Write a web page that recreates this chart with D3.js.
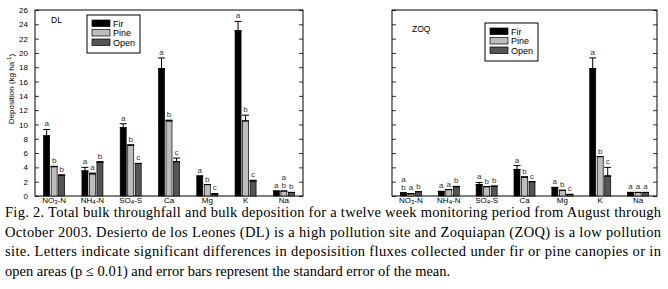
<!DOCTYPE html>
<html><head><meta charset="utf-8">
<script src="https://cdn.jsdelivr.net/npm/d3@7/dist/d3.min.js"></script>
<style>body{margin:0;background:#fff}svg{display:block}</style>
</head><body>
<svg id="c" width="668" height="289"></svg>
<script>
const categories = [["NO","3","-N"],["NH","4","-N"],["SO","4","-S"],["Ca","",""],["Mg","",""],["K","",""],["Na","",""]];
const seriesNames = ["Fir","Pine","Open"];
const yTicks = [0,2,4,6,8,10,12,14,16,18,20,22,24,26];

const dlFir = [8.4,3.5,9.55,17.8,2.8,23.1,0.7];
const dlFirErr = [0.9,0.5,0.55,1.5,0,1.3,0];
const dlPine = [4.1,3.1,7.1,10.5,1.6,10.5,0.7];
const dlPineErr = [0.05,0.1,0.05,0.1,0,0.8,0];
const dlOpen = [2.9,4.7,4.55,4.8,0.25,2.1,0.5];
const dlOpenErr = [0.05,0.1,0,0.5,0.1,0.1,0];
const dlLetters = [["a","b","b"],["a","a","b"],["a","b","c"],["a","b","c"],["a","b","c"],["a","b","c"],["a","a\nb","b"]];

const zoqFir = [0.45,0.65,1.6,3.7,1.2,17.8,0.5];
const zoqFirErr = [0,0,0.3,0.55,0,1.5,0];
const zoqPine = [0.3,0.9,1.3,2.6,0.8,5.5,0.5];
const zoqPineErr = [0.05,0,0,0.1,0,0,0];
const zoqOpen = [0.6,1.3,1.35,2.0,0.2,2.8,0.5];
const zoqOpenErr = [0,0.05,0.05,0,0.05,1.2,0];
const zoqLetters = [["a\nb","a","b"],["a","a","b"],["a","b","b"],["a","b","c"],["a","b","c"],["a","b","c"],["a","a","a"]];

const captionLines = [
 "Fig. 2. Total bulk throughfall and bulk deposition for a twelve week monitoring period from August through",
 "October 2003. Desierto de los Leones (DL) is a high pollution site and Zoquiapan (ZOQ) is a low pollution",
 "site. Letters indicate significant differences in deposisition fluxes collected under fir or pine canopies or in",
 "open areas (p \u2264  0.01) and error bars represent the standard error of the mean."
];

const fills = ["#000000","#bdbdbd","#555555"];
const svg = d3.select("#c");
svg.append("rect").attr("width",668).attr("height",289).attr("fill","#fff");
const font = "Arial, 'Liberation Sans', sans-serif";

function panel(opt){
  const g = svg.append("g");
  const y = d3.scaleLinear().domain([0,26]).range([196,10]);
  const x0 = d3.scaleBand().domain(d3.range(categories.length)).range([opt.left,opt.right]).paddingInner(0).paddingOuter(0);
  const gw = x0.bandwidth();
  const x1 = d3.scaleBand().domain([0,1,2]).range([gw/2-10.5, gw/2+10.5]).paddingInner(0.2);
  const la = g.append("g").attr("transform",`translate(${opt.left},0)`)
    .call(d3.axisLeft(y).tickValues(yTicks).tickSize(-4).tickPadding(opt.labels?7:0).tickFormat(opt.labels?d3.format("d"):""));
  la.select(".domain").remove();
  la.selectAll("text").attr("font-family",font).attr("font-size",8).attr("fill","#000");
  la.selectAll("line").attr("stroke","#000").attr("stroke-width",0.8);
  const ra = g.append("g").attr("transform",`translate(${opt.right},0)`)
    .call(d3.axisRight(y).tickValues(yTicks).tickSize(-4).tickFormat(""));
  ra.select(".domain").remove();
  ra.selectAll("line").attr("stroke","#000").attr("stroke-width",0.8);
  g.append("rect").attr("x",opt.left).attr("y",y(26)).attr("width",opt.right-opt.left).attr("height",y(0)-y(26))
    .attr("fill","none").attr("stroke","#000").attr("stroke-width",1);
  const series = [opt.fir,opt.pine,opt.open];
  const errs = [opt.firErr,opt.pineErr,opt.openErr];
  categories.forEach((c,i)=>{
    const gg = g.append("g").attr("transform",`translate(${x0(i)},0)`);
    series.forEach((s,j)=>{
      const bx = x1(j), bw = x1.bandwidth();
      const v = s[i], e = errs[j][i];
      gg.append("rect").attr("x",bx).attr("y",y(v)).attr("width",bw).attr("height",y(0)-y(v))
        .attr("fill",fills[j]).attr("stroke","#000").attr("stroke-width",0.7);
      const cx = bx+bw/2;
      if(e>0){
        gg.append("line").attr("x1",cx).attr("x2",cx).attr("y1",y(v)).attr("y2",y(v+e)).attr("stroke","#000").attr("stroke-width",1);
        gg.append("line").attr("x1",cx-3.5).attr("x2",cx+3.5).attr("y1",y(v+e)).attr("y2",y(v+e)).attr("stroke","#000").attr("stroke-width",1);
      }
      gg.append("line").attr("x1",bx-0.5).attr("x2",bx+bw+0.5).attr("y1",y(v)).attr("y2",y(v)).attr("stroke","#000").attr("stroke-width",1.2);
      const lines = opt.letters[i][j].split("\n");
      const top = y(v+e) - 3;
      lines.slice().reverse().forEach((t,k)=>{
        gg.append("text").attr("x",cx).attr("y",top - k*7.5).attr("text-anchor","middle")
          .attr("font-family",font).attr("font-size",8).attr("fill","#333").text(t);
      });
    });
    const t = g.append("text").attr("x",x0(i)+gw/2).attr("y",203).attr("text-anchor","middle")
      .attr("font-family",font).attr("font-size",8).attr("fill","#000");
    t.append("tspan").text(c[0]);
    if(c[1]){ t.append("tspan").attr("font-size",6).attr("dy",1.2).text(c[1]); t.append("tspan").attr("dy",-1.2).text(c[2]); }
  });
  g.append("text").attr("x",opt.siteX).attr("y",opt.siteY).attr("font-family",font).attr("font-size",8.5).text(opt.site);
  const lg = g.append("g").attr("transform",`translate(${opt.legX},${opt.legY})`);
  lg.append("rect").attr("width",53).attr("height",38).attr("fill","#fff").attr("stroke","#000").attr("stroke-width",1);
  seriesNames.forEach((n,j)=>{
    lg.append("rect").attr("x",5).attr("y",5+j*9.5).attr("width",18).attr("height",6.5).attr("fill",fills[j]).attr("stroke","#000").attr("stroke-width",0.7);
    lg.append("text").attr("x",26).attr("y",11.5+j*9.5).attr("font-family",font).attr("font-size",9).text(n);
  });
}

panel({left:35,right:303,labels:true,fir:dlFir,pine:dlPine,open:dlOpen,firErr:dlFirErr,pineErr:dlPineErr,openErr:dlOpenErr,
  letters:dlLetters,site:"DL",siteX:51,siteY:23,legX:87,legY:15});
panel({left:392,right:657,labels:false,fir:zoqFir,pine:zoqPine,open:zoqOpen,firErr:zoqFirErr,pineErr:zoqPineErr,openErr:zoqOpenErr,
  letters:zoqLetters,site:"ZOQ",siteX:412,siteY:32,legX:485,legY:23});

const yl = svg.append("text").attr("transform","translate(14,89) rotate(-90)").attr("text-anchor","middle")
  .attr("font-family",font).attr("font-size",8);
yl.append("tspan").text("Deposition (kg ha");
yl.append("tspan").attr("font-size",6).attr("dy",-3).text("-1");
yl.append("tspan").attr("dy",3).text(")");

captionLines.forEach((l,i)=>{
  const t = svg.append("text").attr("x",5).attr("y",217.2+i*19.6).attr("font-family","'Liberation Serif','Times New Roman',serif")
    .attr("font-size",14.5).attr("fill","#000").text(l);
  if(i<3) t.attr("textLength",656).attr("lengthAdjust","spacing");
});
</script>
</body></html>
